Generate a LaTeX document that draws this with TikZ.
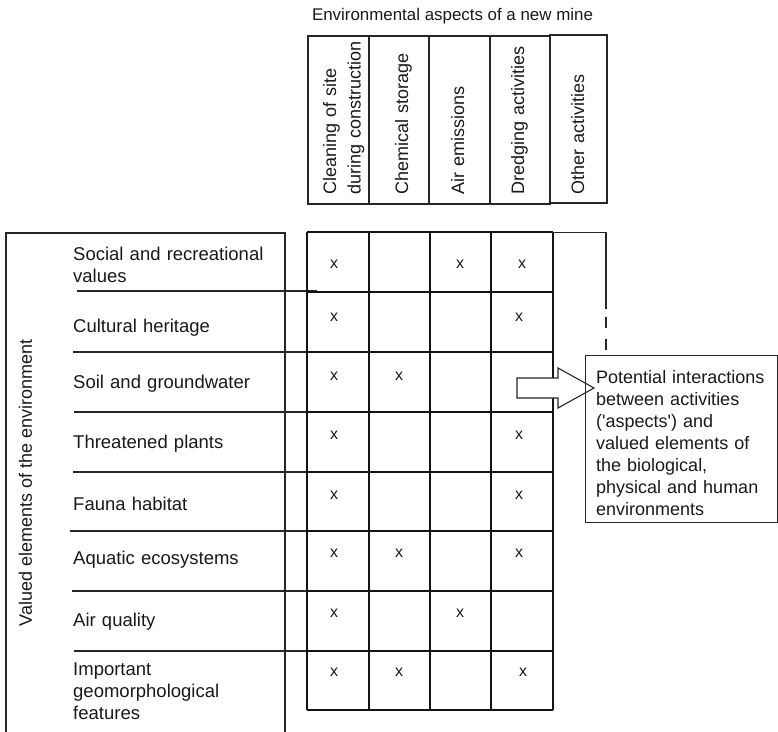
\documentclass[tikz,border=0pt]{standalone}
\usepackage{fontspec}
\setmainfont{Liberation Sans}
\begin{document}
\begin{tikzpicture}[x=1pt,y=-1pt,
  frameline/.style={line width=1.1pt, draw=black!85},
  gridline/.style={line width=1.7pt, draw=black!92},
  rowlabel/.style={font=\fontsize{18.5}{22}\selectfont, inner sep=0pt,
    anchor=base west, text width=220pt, align=left, text=black!90},
  colhead/.style={font=\fontsize{18}{24.5}\selectfont, inner sep=0pt,
    rotate=90, anchor=base west, text width=170pt, align=left, text=black!90},
  xmark/.style={font=\fontsize{16}{16}\selectfont, inner sep=0pt, text=black!90},
]
\useasboundingbox (0,0) rectangle (778,731);

% ---- title and aspect columns ----
\node[font=\fontsize{16.9}{20}\selectfont, anchor=base, inner sep=0pt, text=black!90]
  (title) at (452.5,20) {Environmental aspects of a new mine};

\draw[frameline] (308,36) rectangle (550,204);
\foreach \cx in {369,429,490} \draw[frameline] (\cx,36) -- (\cx,204);
\draw[frameline] (550,35) rectangle (607,203);

\node[colhead] (hClear) at (336,195) {Cleaning of site\\during construction};
\node[colhead] (hChem)  at (408,195) {Chemical storage};
\node[colhead] (hAir)   at (464,195) {Air emissions};
\node[colhead] (hDredge) at (524,195) {Dredging activities};
\node[colhead] (hOther) at (584,195) {Other activities};

% ---- valued elements frame ----
\draw[frameline] (6,732) -- (6,233) -- (285,233) -- (285,732);
\node[font=\fontsize{18}{22}\selectfont, rotate=90, inner sep=0pt, text=black!90]
  (vlabel) at (25.4,483) {Valued elements of the environment};

\draw[frameline] (77,291) -- (317,291);
\draw[frameline] (73,352) -- (313,352);
\draw[frameline] (74,412) -- (315,412);
\draw[frameline] (73,472) -- (307,472);
\draw[frameline] (70,531) -- (307,531);
\draw[frameline] (72,591) -- (312,591);
\draw[frameline] (74,651) -- (307,651);

\node[rowlabel] (rSocial) at (73,260) {Social and recreational\\values};
\node[rowlabel] (rCult)   at (73,332) {Cultural heritage};
\node[rowlabel] (rSoil)   at (73,388) {Soil and groundwater};
\node[rowlabel] (rPlant)  at (73,448) {Threatened plants};
\node[rowlabel] (rFauna)  at (73,510) {Fauna habitat};
\node[rowlabel] (rAqua)   at (73,564) {Aquatic ecosystems};
\node[rowlabel] (rAirQ)   at (73,626) {Air quality};
\node[rowlabel] (rGeo)    at (73,675) {Important\\geomorphological\\features};

% ---- interaction matrix ----
\foreach \ry in {232,292,352,412,472,531,591,651,710}
  \draw[gridline] (307,\ry) -- (553,\ry);
\foreach \cx in {307,369,430,491,553}
  \draw[gridline] (\cx,232) -- (\cx,710);

\foreach \nm/\px/\py in {
  a1/334/264, a3/460/264, a4/522/264,
  b1/334/317, b4/519/317,
  c1/334/376, c2/399/376,
  d1/334/435, d4/519/435,
  e1/334/495, e4/519/495,
  f1/334/553, f2/399/553, f4/519/553,
  g1/334/613, g3/460/613,
  h1/334/672, h2/399/672, h4/523/672}
  \node[xmark] (m\nm) at (\px,\py) {x};

% open continuation of the "other activities" column
\draw[frameline] (553,232.7) -- (606,232.7) -- (606,309);
\draw[frameline] (606,317) -- (606,328);
\draw[frameline] (606,339) -- (606,350);

% ---- block arrow and explanation box ----
\draw[frameline, fill=white] (517,378) -- (558,378) -- (558,368) -- (594,388)
  -- (558,408) -- (558,398) -- (517,398) -- cycle;

\node[draw=black!85, line width=1.1pt, anchor=north west, inner sep=0pt,
  minimum width=192pt, minimum height=167pt] (callout) at (585,355) {};
\node[font=\fontsize{18}{22}\selectfont, anchor=base west, inner sep=0pt,
  text width=180pt, align=left, text=black!90] (callouttext) at (596,383.5)
  {Potential interactions\\between activities\\(\textquotesingle aspects\textquotesingle) and\\valued elements of\\the biological,\\physical and human\\environments};
\end{tikzpicture}
\end{document}
